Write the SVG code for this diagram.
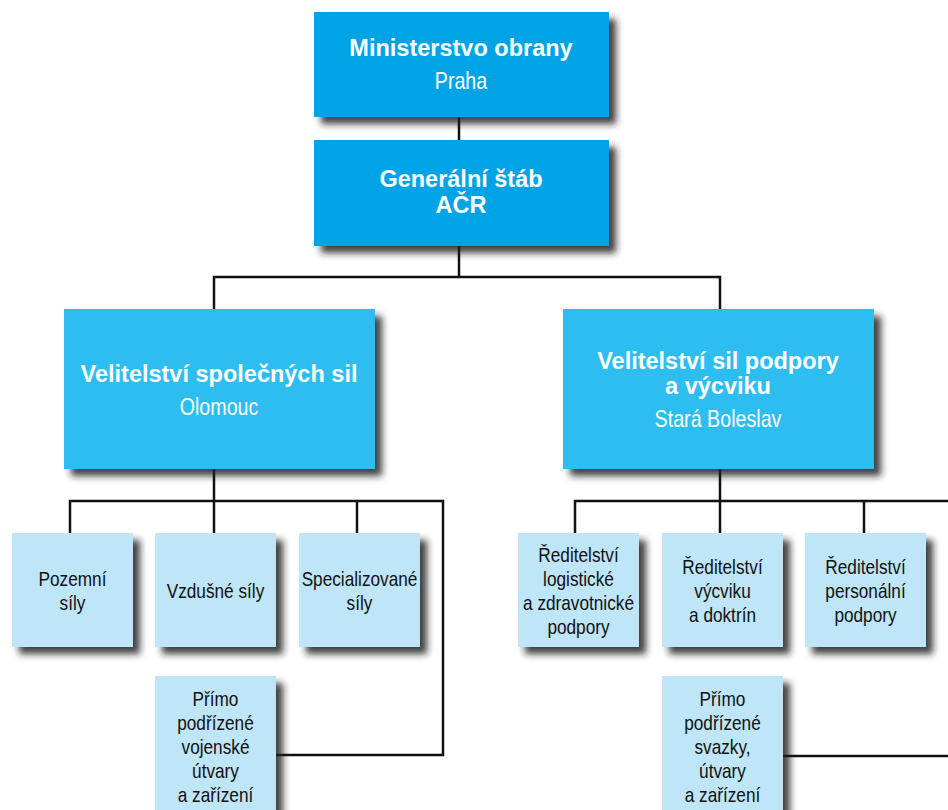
<svg xmlns="http://www.w3.org/2000/svg" width="948" height="810" viewBox="0 0 948 810">
<defs>
<filter id="sh" x="-10%" y="-10%" width="130%" height="130%">
<feDropShadow dx="7" dy="7" stdDeviation="3.5" flood-color="#222" flood-opacity="0.85"/>
</filter>
<style>
.top{fill:#00A4E6;filter:url(#sh)}
.mid{fill:#2EBDF0;filter:url(#sh)}
.sub{fill:#BEE5F8;filter:url(#sh)}
.h{font-family:"Liberation Sans",Arial,sans-serif;font-weight:bold;font-size:23.5px;fill:#fff;text-anchor:middle}
.c{font-family:"Liberation Sans",Arial,sans-serif;font-size:24px;fill:#fff;text-anchor:middle}
.t{font-family:"Liberation Sans",Arial,sans-serif;font-size:21px;fill:#111;text-anchor:middle}
.ln{fill:none;stroke:#111;stroke-width:2.5}
</style>
</defs>
<rect width="948" height="810" fill="#fff"/>
<g id="connectors">
<path class="ln" d="M459 117V140"/>
<path class="ln" d="M459 246V277M214 309V277H720V309"/>
<path class="ln" d="M214 469V501M70 533V501H443V755H276M214 501V533M357 501V533"/>
<path class="ln" d="M720 469V501M575 533V501H948M720 501V533M864 501V533M783 756H948"/>
</g>
<g id="n-mo"><rect class="top" x="314" y="12" width="295" height="105"/>
<text class="h" x="461" y="56">Ministerstvo obrany</text><text class="c" transform="translate(461 0) scale(0.82 1)" x="0" y="89">Praha</text></g>
<g id="n-gs"><rect class="top" x="314" y="140" width="295" height="106"/>
<text class="h" x="461" y="187">Generální štáb</text><text class="h" x="461" y="213">AČR</text></g>
<g id="n-vss"><rect class="mid" x="64" y="309" width="311" height="160"/>
<text class="h" x="219" y="382">Velitelství společných sil</text><text class="c" transform="translate(219 0) scale(0.82 1)" x="0" y="415">Olomouc</text></g>
<g id="n-vspv"><rect class="mid" x="563" y="309" width="311" height="160"/>
<text class="h" x="718" y="369">Velitelství sil podpory</text><text class="h" x="718" y="394">a výcviku</text><text class="c" transform="translate(718 0) scale(0.82 1)" x="0" y="427">Stará Boleslav</text></g>
<g id="n-poz"><rect class="sub" x="12" y="533" width="121" height="114"/>
<g transform="translate(72.5 0) scale(0.82 1)"><text class="t" x="0" y="586">Pozemní</text><text class="t" x="0" y="610">síly</text></g></g>
<g id="n-vzd"><rect class="sub" x="155" y="533" width="121" height="114"/>
<g transform="translate(215.5 0) scale(0.82 1)"><text class="t" x="0" y="598">Vzdušné síly</text></g></g>
<g id="n-spec"><rect class="sub" x="299" y="533" width="121" height="114"/>
<g transform="translate(359.5 0) scale(0.82 1)"><text class="t" x="0" y="586">Specializované</text><text class="t" x="0" y="610">síly</text></g></g>
<g id="n-prl"><rect class="sub" x="155" y="676" width="121" height="150"/>
<g transform="translate(215.5 0) scale(0.82 1)"><text class="t" x="0" y="706">Přímo</text><text class="t" x="0" y="730">podřízené</text><text class="t" x="0" y="754">vojenské</text><text class="t" x="0" y="778">útvary</text><text class="t" x="0" y="802">a zařízení</text></g></g>
<g id="n-log"><rect class="sub" x="518" y="533" width="121" height="114"/>
<g transform="translate(578.5 0) scale(0.82 1)"><text class="t" x="0" y="562">Ředitelství</text><text class="t" x="0" y="586">logistické</text><text class="t" x="0" y="610">a zdravotnické</text><text class="t" x="0" y="634">podpory</text></g></g>
<g id="n-vyc"><rect class="sub" x="662" y="533" width="121" height="114"/>
<g transform="translate(722.5 0) scale(0.82 1)"><text class="t" x="0" y="574">Ředitelství</text><text class="t" x="0" y="598">výcviku</text><text class="t" x="0" y="622">a doktrín</text></g></g>
<g id="n-pers"><rect class="sub" x="805" y="533" width="121" height="114"/>
<g transform="translate(865.5 0) scale(0.82 1)"><text class="t" x="0" y="574">Ředitelství</text><text class="t" x="0" y="598">personální</text><text class="t" x="0" y="622">podpory</text></g></g>
<g id="n-prr"><rect class="sub" x="662" y="676" width="121" height="150"/>
<g transform="translate(722.5 0) scale(0.82 1)"><text class="t" x="0" y="706">Přímo</text><text class="t" x="0" y="730">podřízené</text><text class="t" x="0" y="754">svazky,</text><text class="t" x="0" y="778">útvary</text><text class="t" x="0" y="802">a zařízení</text></g></g>
</svg>
